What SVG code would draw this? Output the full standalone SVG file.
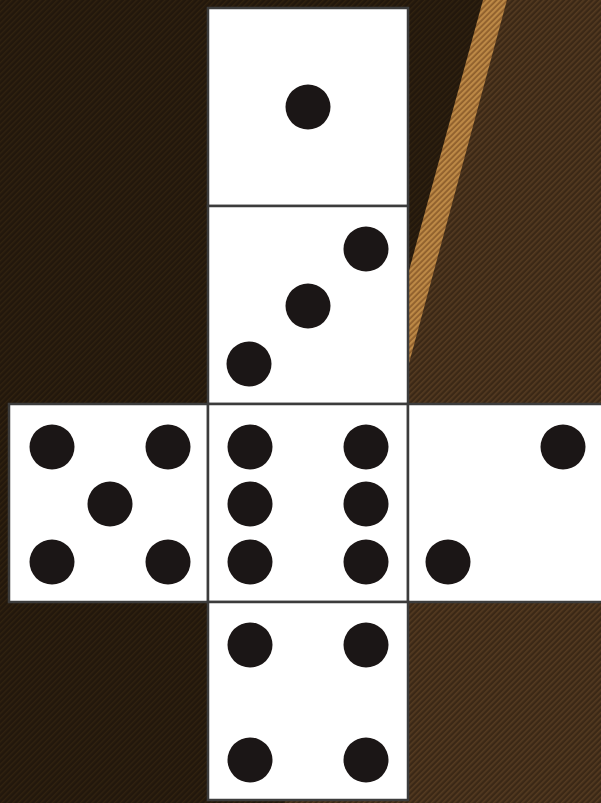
<svg xmlns="http://www.w3.org/2000/svg" width="601" height="803" viewBox="0 0 601 803">
<defs>
<pattern id="hDark" width="4" height="4" patternUnits="userSpaceOnUse" patternTransform="rotate(45)">
<rect width="4" height="4" fill="#22170c"/>
<rect width="1.4" height="4" fill="#31220f"/>
</pattern>
<pattern id="hMid" width="4" height="4" patternUnits="userSpaceOnUse" patternTransform="rotate(45)">
<rect width="4" height="4" fill="#3b2816"/>
<rect width="1.6" height="4" fill="#553b21"/>
</pattern>
<pattern id="hOr" width="4" height="4" patternUnits="userSpaceOnUse" patternTransform="rotate(45)">
<rect width="4" height="4" fill="#8e5f2c"/>
<rect width="2.2" height="4" fill="#bd8946"/>
</pattern>
</defs>
<style>
.face{fill:#ffffff;stroke:#3c3c3c;stroke-width:2.5}
.pip{fill:#1b1616}
</style>
<g id="background">
<rect x="0" y="0" width="601" height="803" fill="url(#hDark)"/>
<polygon points="507,0 601,0 601,803 285,803" fill="url(#hMid)"/>
<polygon points="483,0 507,0 408,367 390,340" fill="url(#hOr)"/>
</g>
<g id="die-top">
<rect class="face" x="208" y="8" width="200" height="198"/>
<circle class="pip" cx="308" cy="107" r="22.5"/>
</g>
<g id="die-three">
<rect class="face" x="208" y="206" width="200" height="198"/>
<circle class="pip" cx="366" cy="249" r="22.5"/>
<circle class="pip" cx="308" cy="306" r="22.5"/>
<circle class="pip" cx="249" cy="364" r="22.5"/>
</g>
<g id="die-five">
<rect class="face" x="9" y="404" width="199" height="198"/>
<circle class="pip" cx="52" cy="447" r="22.5"/>
<circle class="pip" cx="168" cy="447" r="22.5"/>
<circle class="pip" cx="110" cy="504" r="22.5"/>
<circle class="pip" cx="52" cy="562" r="22.5"/>
<circle class="pip" cx="168" cy="562" r="22.5"/>
</g>
<g id="die-six">
<rect class="face" x="208" y="404" width="200" height="198"/>
<circle class="pip" cx="250" cy="447" r="22.5"/>
<circle class="pip" cx="366" cy="447" r="22.5"/>
<circle class="pip" cx="250" cy="504" r="22.5"/>
<circle class="pip" cx="366" cy="504" r="22.5"/>
<circle class="pip" cx="250" cy="562" r="22.5"/>
<circle class="pip" cx="366" cy="562" r="22.5"/>
</g>
<g id="die-two">
<rect class="face" x="408" y="404" width="196" height="198"/>
<circle class="pip" cx="563" cy="447" r="22.5"/>
<circle class="pip" cx="448" cy="562" r="22.5"/>
</g>
<g id="die-four">
<rect class="face" x="208" y="602" width="200" height="198"/>
<circle class="pip" cx="250" cy="645" r="22.5"/>
<circle class="pip" cx="366" cy="645" r="22.5"/>
<circle class="pip" cx="250" cy="760" r="22.5"/>
<circle class="pip" cx="366" cy="760" r="22.5"/>
</g>
<g id="connectors"></g>
</svg>
